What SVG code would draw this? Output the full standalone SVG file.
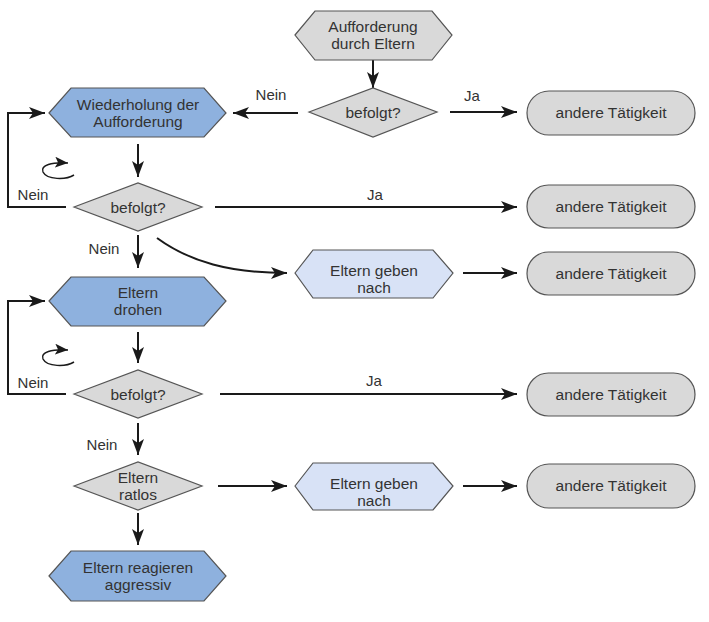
<svg xmlns="http://www.w3.org/2000/svg" width="709" height="622" viewBox="0 0 709 622">
<defs>
<marker id="ah" markerUnits="userSpaceOnUse" markerWidth="16" markerHeight="12" viewBox="0 0 16 12" refX="16" refY="6" orient="auto">
<path d="M0,0 L16,6 L0,12 L4,6 z" fill="#1a1a1a"/>
</marker>
<marker id="ahs" markerUnits="userSpaceOnUse" markerWidth="13" markerHeight="11" viewBox="0 0 13 11" refX="13" refY="5.5" orient="auto">
<path d="M0,0 L13,5.5 L0,11 L3,5.5 z" fill="#1a1a1a"/>
</marker>
<style>
.g{fill:#d9d9d9;stroke:#555;stroke-width:1.2}
.b{fill:#8eb1de;stroke:#555;stroke-width:1.2}
.lb{fill:#d8e2f6;stroke:#555;stroke-width:1.2}
.t{font-family:"Liberation Sans",Arial,sans-serif;font-size:15.5px;fill:#333;text-anchor:middle}
.l{font-family:"Liberation Sans",Arial,sans-serif;font-size:15px;fill:#333;text-anchor:middle}
.c{fill:none;stroke:#1a1a1a;stroke-width:2;marker-end:url(#ah)}
.ci{fill:none;stroke:#1a1a1a;stroke-width:1.5;marker-end:url(#ahs)}
</style>
</defs>
<rect width="709" height="622" fill="#fff"/>
<g id="connectors">
<path class="c" d="M373,60 V88"/>
<path class="c" d="M450,112 H517"/>
<path class="c" d="M298,113 H233"/>
<path class="c" d="M138,144 V177"/>
<path class="c" d="M215,207 H517"/>
<path class="c" d="M66,207 H8 V113 H45"/>
<path class="c" d="M138,235 V268"/>
<path class="c" d="M157,238 C190,262 230,273 287,273"/>
<path class="c" d="M463,273 H517"/>
<path class="c" d="M138,332 V363"/>
<path class="c" d="M220,394 H517"/>
<path class="c" d="M66,394 H8 V301 H45"/>
<path class="c" d="M138,423 V455"/>
<path class="c" d="M218,486 H287"/>
<path class="c" d="M463,486 H517"/>
<path class="c" d="M138,513 V545"/>
<path class="ci" d="M74,175 C66,180 47,180 43,172 C40,165 52,162 68,163"/>
<path class="ci" d="M74,362 C66,367 47,367 43,359 C40,352 52,349 68,350"/>
<text class="l" x="271" y="100">Nein</text>
<text class="l" x="472" y="101">Ja</text>
<text class="l" x="375" y="200">Ja</text>
<text class="l" x="33" y="200">Nein</text>
<text class="l" x="104" y="254">Nein</text>
<text class="l" x="374" y="386">Ja</text>
<text class="l" x="33" y="388">Nein</text>
<text class="l" x="102" y="450">Nein</text>
</g>
<g id="start">
<polygon class="g" points="295,35 315,11 432,11 452,35 432,60 315,60"/>
<text class="t" x="373" y="32">Aufforderung</text>
<text class="t" x="373" y="49">durch Eltern</text>
</g>
<g id="d1">
<polygon class="g" points="309,112 373,88 437,112 373,137"/>
<text class="t" x="373" y="118">befolgt?</text>
</g>
<g id="r1">
<rect class="g" x="527" y="91" width="168" height="44" rx="22"/>
<text class="t" x="611" y="118">andere Tätigkeit</text>
</g>
<g id="wiederholung">
<polygon class="b" points="49,113 71,88 204,88 226,113 204,137 71,137"/>
<text class="t" x="138" y="110">Wiederholung der</text>
<text class="t" x="138" y="127">Aufforderung</text>
</g>
<g id="d2">
<polygon class="g" points="74,207 138,183 202,207 138,231"/>
<text class="t" x="138" y="213">befolgt?</text>
</g>
<g id="r2">
<rect class="g" x="527" y="185" width="168" height="43" rx="21.5"/>
<text class="t" x="611" y="212">andere Tätigkeit</text>
</g>
<g id="geben1">
<polygon class="lb" points="295,273 313,250 433,250 453,273 433,298 313,298"/>
<text class="t" x="374" y="276">Eltern geben</text>
<text class="t" x="374" y="293">nach</text>
</g>
<g id="r3">
<rect class="g" x="527" y="252" width="168" height="43" rx="21.5"/>
<text class="t" x="611" y="279">andere Tätigkeit</text>
</g>
<g id="drohen">
<polygon class="b" points="49,301 71,277 204,277 226,301 204,326 71,326"/>
<text class="t" x="138" y="298">Eltern</text>
<text class="t" x="138" y="315">drohen</text>
</g>
<g id="d3">
<polygon class="g" points="74,394 138,370 202,394 138,418"/>
<text class="t" x="138" y="400">befolgt?</text>
</g>
<g id="r4">
<rect class="g" x="527" y="373" width="168" height="43" rx="21.5"/>
<text class="t" x="611" y="400">andere Tätigkeit</text>
</g>
<g id="d4">
<polygon class="g" points="74,486 138,462 202,486 138,510"/>
<text class="t" x="138" y="483">Eltern</text>
<text class="t" x="138" y="500">ratlos</text>
</g>
<g id="geben2">
<polygon class="lb" points="295,486 313,463 433,463 453,486 433,510 313,510"/>
<text class="t" x="374" y="489">Eltern geben</text>
<text class="t" x="374" y="506">nach</text>
</g>
<g id="r5">
<rect class="g" x="527" y="464" width="168" height="44" rx="22"/>
<text class="t" x="611" y="491">andere Tätigkeit</text>
</g>
<g id="aggressiv">
<polygon class="b" points="49,576 71,551 204,551 226,576 204,601 71,601"/>
<text class="t" x="138" y="573">Eltern reagieren</text>
<text class="t" x="138" y="590">aggressiv</text>
</g>
</svg>
